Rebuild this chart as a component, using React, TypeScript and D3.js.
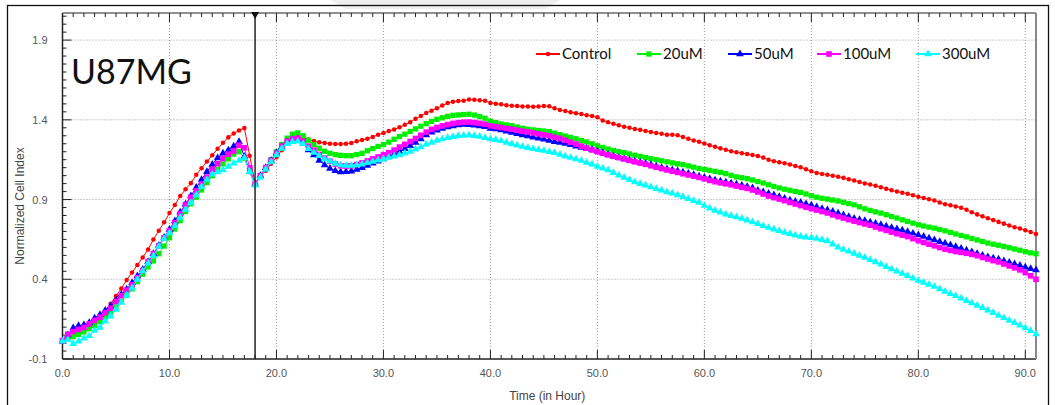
import React, { useEffect } from 'react';
import * as d3 from 'd3';

// sampling grid: every 0.5 hour from 0 to 91 h
const times: number[] = d3.range(0, 91.001, 0.5);

const control = [
  0.010, 0.020, 0.038, 0.052, 0.070, 0.097, 0.127, 0.163, 0.200, 0.247,
  0.295, 0.342, 0.396, 0.442, 0.490, 0.537, 0.587, 0.650, 0.705, 0.757,
  0.815, 0.866, 0.922, 0.964, 1.003, 1.055, 1.097, 1.138, 1.178, 1.218,
  1.256, 1.290, 1.314, 1.333, 1.348, 1.175, 1.000, 1.045, 1.080, 1.125,
  1.165, 1.210, 1.250, 1.278, 1.290, 1.285, 1.277, 1.267, 1.260, 1.255,
  1.250, 1.248, 1.248, 1.250, 1.255, 1.265, 1.273, 1.282, 1.293, 1.307,
  1.317, 1.330, 1.339, 1.353, 1.369, 1.385, 1.406, 1.424, 1.443, 1.457,
  1.472, 1.490, 1.505, 1.514, 1.518, 1.520, 1.527, 1.526, 1.523, 1.519,
  1.506, 1.501, 1.498, 1.492, 1.488, 1.486, 1.484, 1.483, 1.482, 1.483,
  1.486, 1.485, 1.473, 1.462, 1.455, 1.448, 1.442, 1.436, 1.429, 1.424,
  1.416, 1.396, 1.385, 1.375, 1.366, 1.357, 1.350, 1.343, 1.337, 1.330,
  1.324, 1.318, 1.312, 1.306, 1.306, 1.303, 1.292, 1.281, 1.271, 1.262,
  1.252, 1.241, 1.231, 1.221, 1.212, 1.203, 1.197, 1.191, 1.186, 1.180,
  1.173, 1.163, 1.150, 1.140, 1.134, 1.128, 1.120, 1.111, 1.102, 1.090,
  1.077, 1.067, 1.061, 1.055, 1.049, 1.043, 1.036, 1.027, 1.019, 1.010,
  1.001, 0.994, 0.986, 0.977, 0.967, 0.958, 0.950, 0.943, 0.936, 0.927,
  0.918, 0.910, 0.902, 0.894, 0.882, 0.871, 0.864, 0.857, 0.849, 0.836,
  0.820, 0.807, 0.795, 0.783, 0.771, 0.760, 0.749, 0.738, 0.727, 0.718,
  0.708, 0.697, 0.684,
];

const uM20 = [
  0.015, 0.030, 0.040, 0.055, 0.070, 0.090, 0.110, 0.135, 0.160, 0.190,
  0.225, 0.262, 0.300, 0.340, 0.385, 0.432, 0.478, 0.515, 0.560, 0.608,
  0.660, 0.715, 0.768, 0.825, 0.873, 0.915, 0.960, 1.006, 1.050, 1.090,
  1.124, 1.155, 1.185, 1.200, 1.160, 1.075, 0.998, 1.050, 1.100, 1.150,
  1.200, 1.245, 1.285, 1.310, 1.318, 1.300, 1.272, 1.245, 1.222, 1.203,
  1.190, 1.182, 1.177, 1.175, 1.175, 1.182, 1.190, 1.206, 1.220, 1.233,
  1.245, 1.260, 1.278, 1.295, 1.310, 1.327, 1.343, 1.360, 1.376, 1.390,
  1.403, 1.413, 1.422, 1.428, 1.431, 1.433, 1.435, 1.430, 1.420, 1.410,
  1.392, 1.382, 1.374, 1.368, 1.363, 1.355, 1.347, 1.341, 1.337, 1.333,
  1.330, 1.326, 1.316, 1.307, 1.298, 1.290, 1.281, 1.271, 1.261, 1.250,
  1.237, 1.227, 1.217, 1.208, 1.200, 1.194, 1.186, 1.178, 1.171, 1.164,
  1.157, 1.150, 1.143, 1.137, 1.130, 1.124, 1.119, 1.111, 1.103, 1.095,
  1.089, 1.083, 1.077, 1.071, 1.063, 1.052, 1.042, 1.037, 1.031, 1.023,
  1.013, 1.004, 0.993, 0.982, 0.973, 0.965, 0.958, 0.951, 0.945, 0.935,
  0.924, 0.915, 0.908, 0.903, 0.897, 0.891, 0.883, 0.875, 0.867, 0.855,
  0.842, 0.832, 0.823, 0.815, 0.805, 0.794, 0.784, 0.773, 0.763, 0.752,
  0.742, 0.734, 0.727, 0.721, 0.712, 0.704, 0.694, 0.684, 0.675, 0.666,
  0.656, 0.647, 0.637, 0.627, 0.620, 0.614, 0.606, 0.598, 0.590, 0.582,
  0.573, 0.566, 0.560,
];

const uM50 = [
  0.012, 0.050, 0.095, 0.108, 0.114, 0.127, 0.155, 0.177, 0.205, 0.230,
  0.268, 0.305, 0.338, 0.378, 0.420, 0.462, 0.510, 0.560, 0.612, 0.662,
  0.712, 0.765, 0.820, 0.870, 0.922, 0.975, 1.025, 1.075, 1.120, 1.160,
  1.190, 1.210, 1.235, 1.262, 1.170, 1.075, 0.998, 1.050, 1.100, 1.145,
  1.190, 1.230, 1.260, 1.275, 1.278, 1.250, 1.210, 1.180, 1.145, 1.117,
  1.095, 1.080, 1.073, 1.074, 1.078, 1.088, 1.100, 1.114, 1.127, 1.140,
  1.155, 1.168, 1.184, 1.202, 1.219, 1.237, 1.258, 1.280, 1.305, 1.322,
  1.335, 1.346, 1.355, 1.362, 1.368, 1.370, 1.369, 1.366, 1.362, 1.357,
  1.346, 1.343, 1.336, 1.328, 1.321, 1.313, 1.305, 1.299, 1.291, 1.284,
  1.278, 1.270, 1.263, 1.257, 1.251, 1.243, 1.235, 1.227, 1.220, 1.212,
  1.203, 1.192, 1.181, 1.171, 1.162, 1.154, 1.146, 1.139, 1.132, 1.126,
  1.118, 1.109, 1.100, 1.092, 1.085, 1.079, 1.071, 1.063, 1.055, 1.046,
  1.038, 1.030, 1.022, 1.015, 1.009, 1.003, 0.996, 0.989, 0.981, 0.972,
  0.957, 0.948, 0.938, 0.928, 0.918, 0.906, 0.896, 0.888, 0.882, 0.873,
  0.864, 0.853, 0.843, 0.835, 0.825, 0.814, 0.803, 0.792, 0.781, 0.774,
  0.767, 0.758, 0.750, 0.742, 0.733, 0.724, 0.716, 0.707, 0.698, 0.688,
  0.678, 0.668, 0.657, 0.646, 0.636, 0.626, 0.615, 0.604, 0.593, 0.582,
  0.572, 0.561, 0.550, 0.540, 0.532, 0.525, 0.515, 0.505, 0.496, 0.486,
  0.475, 0.466, 0.458,
];

const uM100 = [
  0.015, 0.055, 0.072, 0.085, 0.098, 0.120, 0.142, 0.162, 0.190, 0.218,
  0.260, 0.297, 0.332, 0.365, 0.410, 0.455, 0.510, 0.560, 0.610, 0.660,
  0.705, 0.755, 0.812, 0.868, 0.915, 0.955, 0.997, 1.040, 1.090, 1.125,
  1.158, 1.185, 1.205, 1.240, 1.225, 1.100, 0.998, 1.050, 1.100, 1.145,
  1.190, 1.235, 1.265, 1.280, 1.285, 1.265, 1.235, 1.210, 1.183, 1.160,
  1.140, 1.123, 1.112, 1.110, 1.112, 1.120, 1.130, 1.142, 1.155, 1.167,
  1.180, 1.194, 1.210, 1.229, 1.246, 1.264, 1.283, 1.303, 1.323, 1.340,
  1.352, 1.362, 1.370, 1.377, 1.382, 1.385, 1.386, 1.383, 1.378, 1.373,
  1.362, 1.357, 1.352, 1.346, 1.341, 1.335, 1.329, 1.324, 1.318, 1.312,
  1.306, 1.300, 1.291, 1.283, 1.272, 1.260, 1.248, 1.235, 1.223, 1.211,
  1.200, 1.190, 1.180, 1.171, 1.163, 1.155, 1.146, 1.137, 1.129, 1.121,
  1.112, 1.103, 1.094, 1.086, 1.078, 1.070, 1.062, 1.054, 1.047, 1.039,
  1.030, 1.020, 1.012, 1.005, 0.999, 0.993, 0.985, 0.977, 0.970, 0.960,
  0.948, 0.935, 0.922, 0.912, 0.903, 0.893, 0.882, 0.872, 0.862, 0.852,
  0.843, 0.834, 0.825, 0.816, 0.804, 0.793, 0.784, 0.774, 0.765, 0.756,
  0.747, 0.739, 0.728, 0.717, 0.707, 0.696, 0.686, 0.677, 0.668, 0.655,
  0.642, 0.631, 0.620, 0.610, 0.599, 0.589, 0.581, 0.574, 0.569, 0.563,
  0.557, 0.548, 0.537, 0.527, 0.517, 0.509, 0.496, 0.484, 0.472, 0.459,
  0.442, 0.422, 0.400,
];

const uM300 = [
  0.012, 0.020, -0.005, 0.012, 0.030, 0.045, 0.078, 0.098, 0.137, 0.168,
  0.210, 0.255, 0.300, 0.345, 0.398, 0.452, 0.500, 0.547, 0.605, 0.655,
  0.690, 0.735, 0.788, 0.838, 0.880, 0.928, 0.980, 1.025, 1.058, 1.072,
  1.085, 1.108, 1.128, 1.145, 1.162, 1.075, 0.990, 1.040, 1.090, 1.135,
  1.180, 1.220, 1.250, 1.262, 1.265, 1.250, 1.218, 1.195, 1.175, 1.155,
  1.140, 1.126, 1.117, 1.113, 1.113, 1.116, 1.122, 1.130, 1.138, 1.147,
  1.155, 1.163, 1.171, 1.180, 1.190, 1.202, 1.215, 1.230, 1.246, 1.258,
  1.270, 1.279, 1.287, 1.294, 1.300, 1.302, 1.304, 1.300, 1.295, 1.288,
  1.280, 1.275, 1.268, 1.258, 1.249, 1.241, 1.232, 1.225, 1.219, 1.213,
  1.207, 1.200, 1.193, 1.183, 1.172, 1.163, 1.155, 1.145, 1.132, 1.121,
  1.108, 1.096, 1.085, 1.068, 1.053, 1.038, 1.024, 1.010, 0.999, 0.990,
  0.979, 0.968, 0.958, 0.948, 0.939, 0.929, 0.917, 0.905, 0.893, 0.881,
  0.862, 0.845, 0.831, 0.820, 0.808, 0.799, 0.790, 0.781, 0.770, 0.759,
  0.748, 0.735, 0.724, 0.714, 0.704, 0.694, 0.685, 0.676, 0.668, 0.663,
  0.660, 0.655, 0.648, 0.640, 0.620, 0.600, 0.587, 0.575, 0.562, 0.549,
  0.537, 0.522, 0.508, 0.494, 0.479, 0.465, 0.450, 0.436, 0.422, 0.407,
  0.392, 0.380, 0.367, 0.354, 0.339, 0.323, 0.309, 0.296, 0.281, 0.266,
  0.251, 0.236, 0.221, 0.206, 0.190, 0.173, 0.158, 0.142, 0.127, 0.112,
  0.095, 0.077, 0.056,
];

const seriesNames = ['Control', '20uM', '50uM', '100uM', '300uM'];
const seriesValues = [control, uM20, uM50, uM100, uM300];
const seriesColors = ['#ff0000', '#00ee00', '#0000ff', '#ff00ff', '#00ffff'];

const xMajorTicks = [0, 10, 20, 30, 40, 50, 60, 70, 80, 90];
const yMajorTicks = [-0.1, 0.4, 0.9, 1.4, 1.9];
const treatmentTime = 18;
const cellLine = 'U87MG';
const xTitle = 'Time (in Hour)';
const yTitle = 'Normalized Cell Index';

export default function App() {
  useEffect(() => {
    document.body.style.margin = '0';
  }, []);

  const W = 1055;
  const H = 405;
  const left = 62.5;
  const right = 1036;
  const top = 13;
  const bottom = 359;

  const x = d3.scaleLinear().domain([0, 91]).range([left, right]);
  const y = d3.scaleLinear().domain([-0.1, 2.07]).range([bottom, top]);

  const line = d3
    .line<number>()
    .x((_d, i) => x(times[i]))
    .y((d) => y(d));

  const symbolTypes = [d3.symbolCircle, d3.symbolSquare, d3.symbolTriangle, d3.symbolSquare, d3.symbolTriangle];
  const symbolSizes = [16, 28, 26, 32, 26];
  const symbolPaths = symbolTypes.map((t, i) => d3.symbol().type(t).size(symbolSizes[i])() as string);

  const xMinor = d3.range(0, 91.001, 1);
  const yMinor = d3.range(-0.1, 2.07, 0.05);

  const legendX = [536, 637, 728, 817, 916];
  const legendY = 54;

  const tickFont = "'Liberation Sans', Arial, sans-serif";

  return (
    <svg width={W} height={H} style={{ display: 'block', background: '#fff' }}>
      {/* faint header shade */}
      <path d="M330,0 L560,0 L545,9 L345,9 Z" fill="#efefef" />
      {/* outer frame */}
      <rect x={7.5} y={5.5} width={1041} height={420} fill="none" stroke="#111" strokeWidth={1.3} />

      {/* grid */}
      <g stroke="#9a9a9a" strokeWidth={1} strokeDasharray="1,2">
        {xMajorTicks.filter((t) => t > 0).map((t) => (
          <line key={'gx' + t} x1={x(t)} x2={x(t)} y1={top} y2={bottom} />
        ))}
        {yMajorTicks.filter((t) => t > -0.1).map((t) => (
          <line key={'gy' + t} x1={left} x2={right} y1={y(t)} y2={y(t)} />
        ))}
      </g>

      {/* ticks */}
      <g stroke="#222" strokeWidth={1}>
        {xMinor.map((t) => {
          const major = xMajorTicks.includes(Math.round(t));
          const len = major ? 9 : 4;
          return (
            <g key={'xt' + t}>
              <line x1={x(t)} x2={x(t)} y1={bottom} y2={bottom - len} />
              <line x1={x(t)} x2={x(t)} y1={top} y2={top + len} />
            </g>
          );
        })}
        {yMinor.map((t, i) => {
          const major = i % 10 === 0;
          const len = major ? 9 : 4;
          return <line key={'yt' + i} x1={left} x2={left + len} y1={y(t)} y2={y(t)} />;
        })}
      </g>

      {/* axes frame */}
      <line x1={left} x2={right} y1={top} y2={top} stroke="#222" strokeWidth={1.2} />
      <line x1={left} x2={right} y1={bottom} y2={bottom} stroke="#222" strokeWidth={1.5} />
      <line x1={left} x2={left} y1={top} y2={bottom} stroke="#222" strokeWidth={1.5} />
      <line x1={right} x2={right} y1={top} y2={bottom} stroke="#888" strokeWidth={2} />

      {/* tick labels */}
      <g fontFamily={tickFont} fontSize={11} fill="#555">
        {xMajorTicks.map((t) => (
          <text key={'xl' + t} x={x(t)} y={bottom + 18} textAnchor="middle">
            {t.toFixed(1)}
          </text>
        ))}
        {yMajorTicks.map((t) => (
          <text key={'yl' + t} x={left - 15} y={y(t) + 4} textAnchor="end">
            {t.toFixed(1)}
          </text>
        ))}
      </g>

      {/* axis titles */}
      <text x={(left + right) / 2 - 2} y={400} textAnchor="middle" fontFamily={tickFont} fontSize={12} fill="#444">
        {xTitle}
      </text>
      <text
        transform={`translate(24,${(top + bottom) / 2 + 20}) rotate(-90)`}
        textAnchor="middle"
        fontFamily={tickFont}
        fontSize={12}
        fill="#444"
      >
        {yTitle}
      </text>

      {/* series */}
      {seriesValues.map((vals, si) => (
        <g key={'s' + si}>
          <path d={line(vals) as string} fill="none" stroke={seriesColors[si]} strokeWidth={1} />
          {vals.map((v, i) => (
            <path
              key={i}
              d={symbolPaths[si]}
              transform={`translate(${x(times[i])},${y(v)})`}
              fill={seriesColors[si]}
            />
          ))}
        </g>
      ))}

      {/* treatment marker */}
      <line x1={x(treatmentTime)} x2={x(treatmentTime)} y1={top} y2={bottom} stroke="#222" strokeWidth={1.5} />
      <path
        d={`M${x(treatmentTime) - 4},${top - 1} L${x(treatmentTime) + 4},${top - 1} L${x(treatmentTime)},${top + 6} Z`}
        fill="#111"
      />

      {/* cell line label */}
      <text x={71} y={84} fontFamily="Lato, 'Open Sans', sans-serif" fontSize={34} fill="#111">
        {cellLine}
      </text>

      {/* legend */}
      {seriesNames.map((name, i) => (
        <g key={'lg' + i} transform={`translate(${legendX[i]},${legendY})`}>
          <line x1={0} x2={24} y1={0} y2={0} stroke={seriesColors[i]} strokeWidth={2} />
          <path d={symbolPaths[i]} transform="translate(12,0)" fill={seriesColors[i]} />
          <text x={26} y={5} fontFamily="Lato, 'Open Sans', sans-serif" fontSize={15} fill="#111">
            {name}
          </text>
        </g>
      ))}
    </svg>
  );
}
